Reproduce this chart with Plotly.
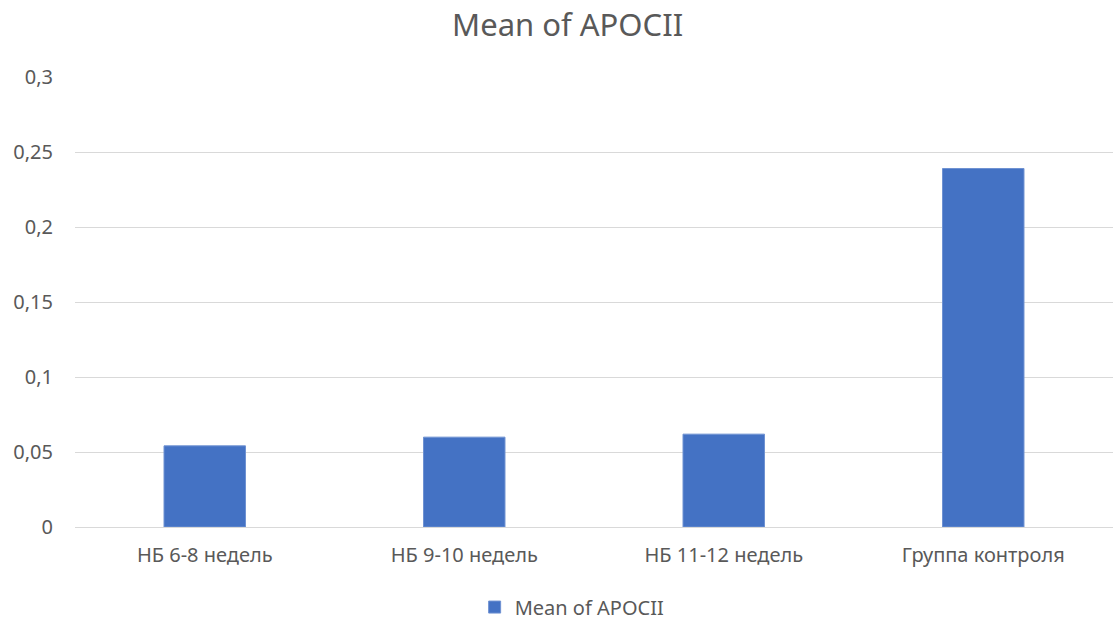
import plotly.graph_objects as go

categories = ["НБ 6-8 недель", "НБ 9-10 недель", "НБ 11-12 недель", "Группа контроля"]
values = [0.0541, 0.0599, 0.0619, 0.2390]
series_name = "Mean of APOCII"
tick_vals = [0, 0.05, 0.1, 0.15, 0.2, 0.25, 0.3]
tick_text = ["0", "0,05", "0,1", "0,15", "0,2", "0,25", "0,3"]

FONT = "Noto Sans, Open Sans, sans-serif"
GREY = "#595959"

fig = go.Figure(
    go.Bar(
        x=categories,
        y=values,
        name=series_name,
        marker=dict(color="#4472C4", line=dict(color="#6f92d2", width=1)),
        showlegend=True,
    )
)

fig.update_layout(
    width=1113,
    height=622,
    margin=dict(l=75, r=0, t=77, b=95),
    paper_bgcolor="white",
    plot_bgcolor="white",
    bargap=0.686,
    title=dict(
        text="Mean of APOCII",
        x=0.51,
        xref="container",
        xanchor="center",
        y=0.960,
        yref="container",
        yanchor="middle",
        font=dict(family=FONT, size=31, color=GREY),
    ),
    font=dict(family=FONT, size=20, color=GREY),
    legend=dict(
        orientation="h",
        x=0.385,
        xanchor="left",
        y=0.024,
        yref="container",
        yanchor="middle",
        font=dict(family=FONT, size=20, color=GREY),
    ),
    xaxis=dict(
        showgrid=False,
        showline=True,
        linecolor="#D9D9D9",
        linewidth=1,
        ticks="",
        ticklabelstandoff=10,
        tickfont=dict(family=FONT, size=20, color=GREY),
    ),
    yaxis=dict(
        range=[0, 0.3],
        tickvals=tick_vals,
        ticktext=tick_text,
        showgrid=True,
        gridcolor="#D9D9D9",
        gridwidth=1,
        zeroline=False,
        showline=False,
        ticks="",
        ticklabelstandoff=21,
        tickfont=dict(family=FONT, size=20, color=GREY),
    ),
)

fig.write_html("out.html")
